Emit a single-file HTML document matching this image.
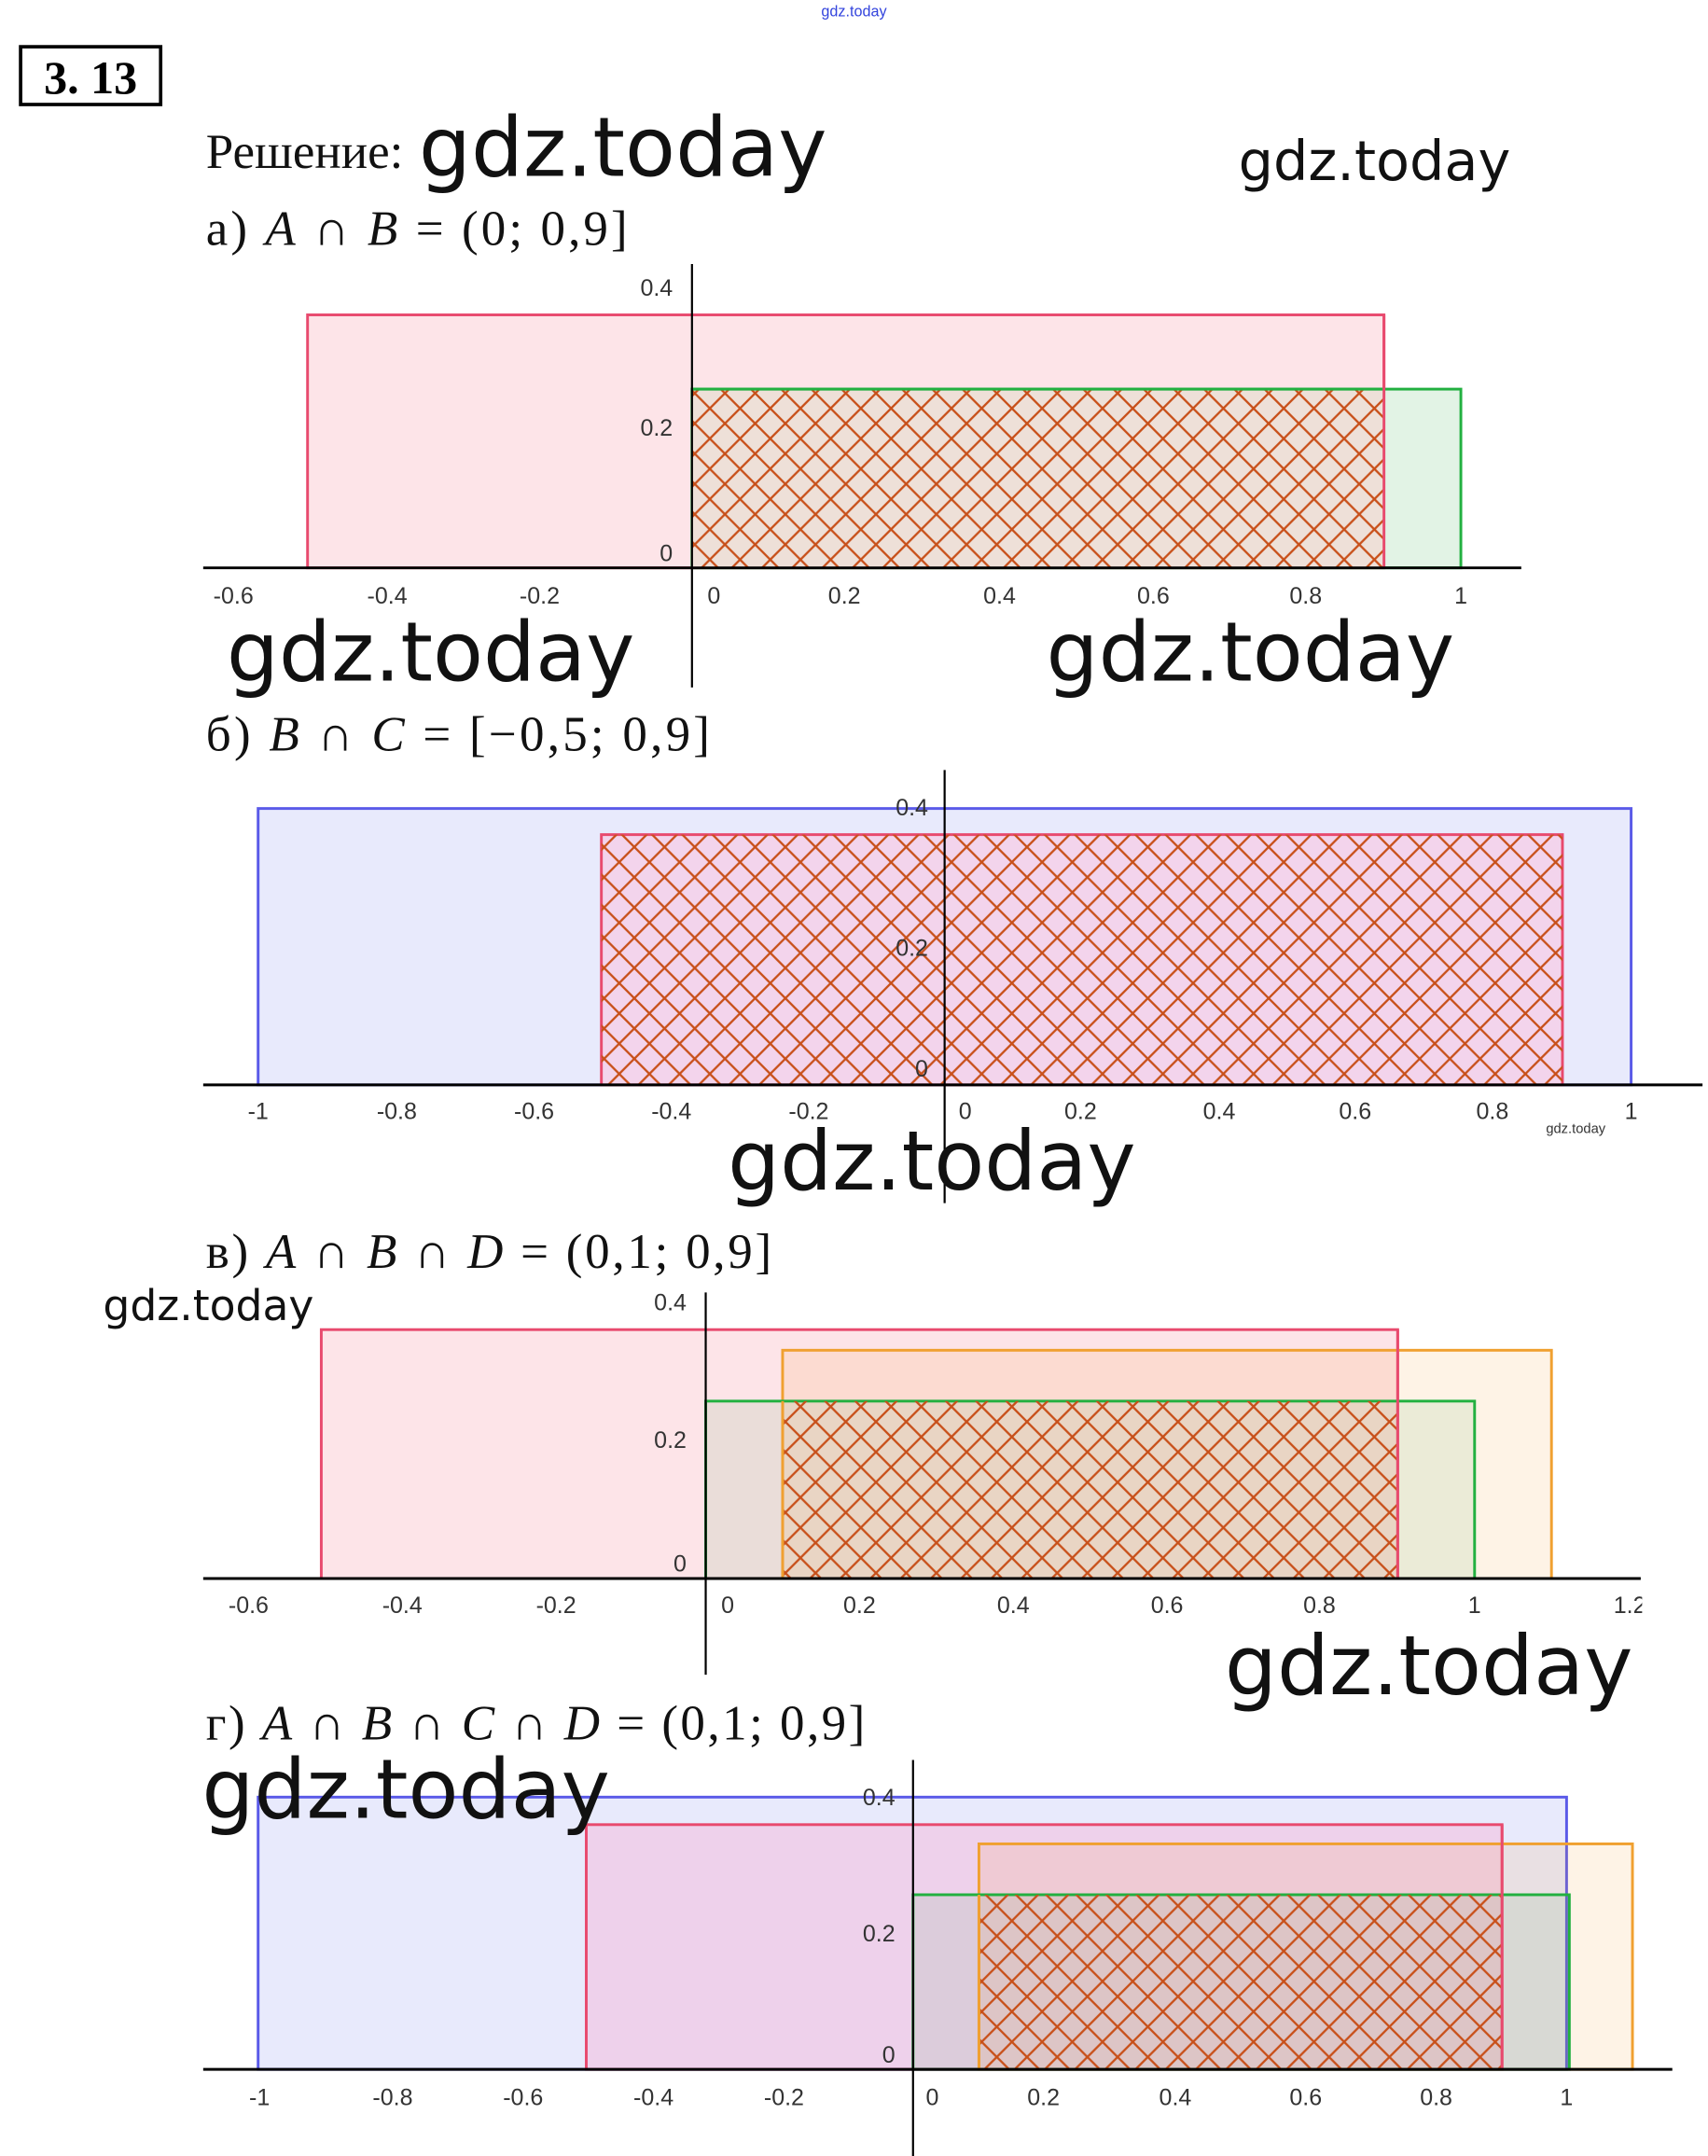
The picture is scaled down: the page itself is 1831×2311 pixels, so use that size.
<!DOCTYPE html>
<html><head><meta charset="utf-8"><style>
html,body{margin:0;padding:0;background:#fff;}
svg{display:block;}
.t{font-family:"Liberation Sans",sans-serif;font-size:17px;fill:#333;}
.m{font-family:"DejaVu Sans","Liberation Sans",sans-serif;fill:#111;}
.s{font-family:"Liberation Serif",serif;fill:#111;font-size:36px;}
</style></head><body>
<svg width="1831" height="2311" viewBox="0 0 1244 1568" preserveAspectRatio="none" xmlns="http://www.w3.org/2000/svg">
<defs>
<pattern id="h" width="22" height="22" patternUnits="userSpaceOnUse">
<path d="M0 0L22 22M22 0L0 22" stroke="#c8501a" stroke-width="1.6" fill="none"/>
</pattern>
</defs>
<rect width="1244" height="1568" fill="#fff"/>
<text x="622" y="12" font-size="11" fill="#3344dd" text-anchor="middle" font-family="Liberation Sans,sans-serif">gdz.today</text>
<rect x="15" y="34" width="102" height="42" fill="none" stroke="#000" stroke-width="2.5"/>
<text x="66" y="68" text-anchor="middle" font-family="Liberation Serif,serif" font-weight="bold" font-size="34">3. 13</text>
<text x="150" y="122" class="s">Решение:</text>
<text x="305" y="128" class="m" font-size="60">gdz.today</text>
<text x="902" y="131" class="m" font-size="40">gdz.today</text>
<text x="150" y="178" class="s" textLength="307" lengthAdjust="spacing">а) <tspan font-style="italic">A</tspan> ∩ <tspan font-style="italic">B</tspan> = (0; 0,9]</text>

<!-- Chart a -->
<rect x="224" y="229" width="784" height="184" fill="#fde4e8" stroke="#e84a6e" stroke-width="2"/>
<rect x="504" y="283" width="560" height="130" fill="#dff2e2" fill-opacity="0.9" stroke="#22b040" stroke-width="2"/>
<rect x="504" y="283" width="504" height="130" fill="#eee0d8"/>
<rect x="504" y="283" width="504" height="130" fill="url(#h)"/>
<line x1="504" y1="283" x2="1008" y2="283" stroke="#22b040" stroke-width="2"/>
<line x1="1008" y1="229" x2="1008" y2="413" stroke="#e84a6e" stroke-width="2"/>
<line x1="148" y1="413" x2="1108" y2="413" stroke="#000" stroke-width="2"/>
<line x1="504" y1="192" x2="504" y2="500" stroke="#000" stroke-width="1.5"/>
<g class="t" text-anchor="end"><text x="490" y="215">0.4</text><text x="490" y="317">0.2</text><text x="490" y="408">0</text></g>
<g class="t" text-anchor="middle"><text x="170" y="439">-0.6</text><text x="282" y="439">-0.4</text><text x="393" y="439">-0.2</text><text x="520" y="439">0</text><text x="615" y="439">0.2</text><text x="728" y="439">0.4</text><text x="840" y="439">0.6</text><text x="951" y="439">0.8</text><text x="1064" y="439">1</text></g>
<text x="165" y="495" class="m" font-size="60">gdz.today</text>
<text x="762" y="495" class="m" font-size="60">gdz.today</text>

<text x="150" y="546" class="s" textLength="367" lengthAdjust="spacing">б) <tspan font-style="italic">B</tspan> ∩ <tspan font-style="italic">C</tspan> = [−0,5; 0,9]</text>
<!-- Chart b -->
<rect x="188" y="588" width="1000" height="201" fill="#e8eafc" stroke="#5a5ae8" stroke-width="2"/>
<rect x="438" y="607" width="700" height="182" fill="#f3d4ec" stroke="#e84a6e" stroke-width="2"/>
<rect x="438" y="607" width="700" height="182" fill="url(#h)"/>
<line x1="148" y1="789" x2="1240" y2="789" stroke="#000" stroke-width="2"/>
<line x1="688" y1="560" x2="688" y2="875" stroke="#000" stroke-width="1.5"/>
<g class="t" text-anchor="end"><text x="676" y="593">0.4</text><text x="676" y="695">0.2</text><text x="676" y="783">0</text></g>
<g class="t" text-anchor="middle"><text x="188" y="814">-1</text><text x="289" y="814">-0.8</text><text x="389" y="814">-0.6</text><text x="489" y="814">-0.4</text><text x="589" y="814">-0.2</text><text x="703" y="814">0</text><text x="787" y="814">0.2</text><text x="888" y="814">0.4</text><text x="987" y="814">0.6</text><text x="1087" y="814">0.8</text><text x="1188" y="814">1</text></g>
<text x="1126" y="824" font-size="10" fill="#333" font-family="Liberation Sans,sans-serif">gdz.today</text>
<text x="530" y="865" class="m" font-size="60">gdz.today</text>

<text x="150" y="922" class="s" textLength="412" lengthAdjust="spacing">в) <tspan font-style="italic">A</tspan> ∩ <tspan font-style="italic">B</tspan> ∩ <tspan font-style="italic">D</tspan> = (0,1; 0,9]</text>
<text x="75" y="960" class="m" font-size="31">gdz.today</text>
<!-- Chart c -->
<rect x="234" y="967" width="784" height="181" fill="#fde4e8" stroke="#e84a6e" stroke-width="2"/>
<rect x="570" y="982" width="560" height="166" fill="#f8a030" fill-opacity="0.12" stroke="#f0a030" stroke-width="2"/>
<rect x="514" y="1019" width="560" height="129" fill="#2a9a40" fill-opacity="0.09" stroke="#22b040" stroke-width="2"/>
<rect x="570" y="1019" width="448" height="129" fill="url(#h)"/>
<line x1="570" y1="1019" x2="570" y2="1148" stroke="#f0a030" stroke-width="2"/>
<line x1="1018" y1="967" x2="1018" y2="1148" stroke="#e84a6e" stroke-width="2"/>
<line x1="148" y1="1148" x2="1195" y2="1148" stroke="#000" stroke-width="2"/>
<line x1="514" y1="940" x2="514" y2="1218" stroke="#000" stroke-width="1.5"/>
<g class="t" text-anchor="end"><text x="500" y="953">0.4</text><text x="500" y="1053">0.2</text><text x="500" y="1143">0</text></g>
<g class="t" text-anchor="middle"><text x="181" y="1173">-0.6</text><text x="293" y="1173">-0.4</text><text x="405" y="1173">-0.2</text><text x="530" y="1173">0</text><text x="626" y="1173">0.2</text><text x="738" y="1173">0.4</text><text x="850" y="1173">0.6</text><text x="961" y="1173">0.8</text><text x="1074" y="1173">1</text><text x="1187" y="1173">1.2</text></g>
<rect x="1196" y="1150" width="48" height="30" fill="#fff"/>
<text x="892" y="1232" class="m" font-size="60">gdz.today</text>

<text x="150" y="1265" class="s" textLength="480" lengthAdjust="spacing">г) <tspan font-style="italic">A</tspan> ∩ <tspan font-style="italic">B</tspan> ∩ <tspan font-style="italic">C</tspan> ∩ <tspan font-style="italic">D</tspan> = (0,1; 0,9]</text>
<!-- Chart d -->
<rect x="188" y="1307" width="953" height="198" fill="#e8eafc" stroke="#5a5ae8" stroke-width="2"/>
<rect x="427" y="1327" width="667" height="178" fill="#ff90c0" fill-opacity="0.28" stroke="#e84a6e" stroke-width="2"/>
<rect x="713" y="1341" width="476" height="164" fill="#f8a030" fill-opacity="0.12" stroke="#f0a030" stroke-width="2"/>
<rect x="665" y="1378" width="478" height="127" fill="#2a9a40" fill-opacity="0.09" stroke="#22b040" stroke-width="2"/>
<rect x="713" y="1378" width="381" height="127" fill="url(#h)"/>
<line x1="713" y1="1378" x2="713" y2="1505" stroke="#f0a030" stroke-width="2"/>
<line x1="1094" y1="1327" x2="1094" y2="1505" stroke="#e84a6e" stroke-width="2"/>
<line x1="148" y1="1505" x2="1218" y2="1505" stroke="#000" stroke-width="2"/>
<line x1="665" y1="1280" x2="665" y2="1568" stroke="#000" stroke-width="1.5"/>
<g class="t" text-anchor="end"><text x="652" y="1313">0.4</text><text x="652" y="1412">0.2</text><text x="652" y="1500">0</text></g>
<g class="t" text-anchor="middle"><text x="189" y="1531">-1</text><text x="286" y="1531">-0.8</text><text x="381" y="1531">-0.6</text><text x="476" y="1531">-0.4</text><text x="571" y="1531">-0.2</text><text x="679" y="1531">0</text><text x="760" y="1531">0.2</text><text x="856" y="1531">0.4</text><text x="951" y="1531">0.6</text><text x="1046" y="1531">0.8</text><text x="1141" y="1531">1</text></g>
<text x="147" y="1322" class="m" font-size="60">gdz.today</text>
</svg>
</body></html>
